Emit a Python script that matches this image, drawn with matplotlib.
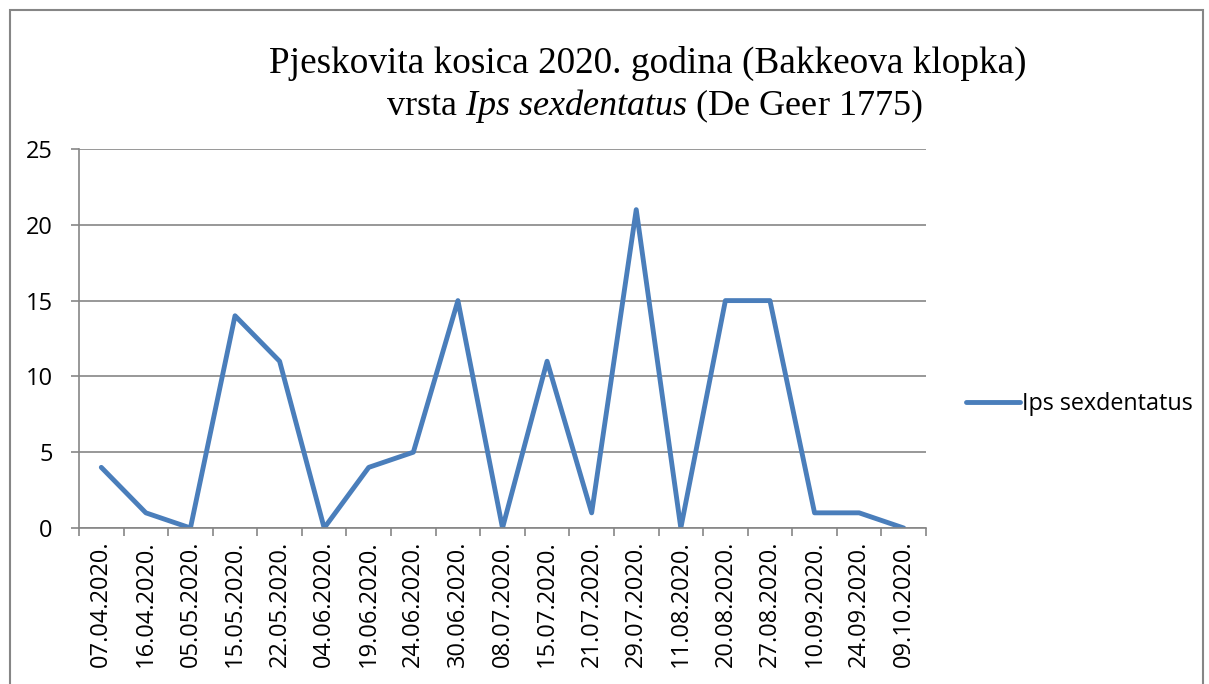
import matplotlib
matplotlib.use("Agg")
import matplotlib.pyplot as plt
from matplotlib.patches import Rectangle
import numpy as np

# data
dates = ["07.04.2020.", "16.04.2020.", "05.05.2020.", "15.05.2020.", "22.05.2020.",
         "04.06.2020.", "19.06.2020.", "24.06.2020.", "30.06.2020.", "08.07.2020.",
         "15.07.2020.", "21.07.2020.", "29.07.2020.", "11.08.2020.", "20.08.2020.",
         "27.08.2020.", "10.09.2020.", "24.09.2020.", "09.10.2020."]
counts = [4, 1, 0, 14, 11, 0, 4, 5, 15, 0, 11, 1, 21, 0, 15, 15, 1, 1, 0]
series_name = "Ips sexdentatus"
y_ticks = [0, 5, 10, 15, 20, 25]

plt.rcParams["mathtext.fontset"] = "custom"
plt.rcParams["mathtext.rm"] = "Liberation Serif"
plt.rcParams["mathtext.it"] = "Liberation Serif:italic"

W, H = 1209, 684
fig = plt.figure(figsize=(W / 100, H / 100), dpi=100)
ax = fig.add_axes([79 / W, 1 - 528 / H, (926 - 79) / W, (528 - 149) / H])

grey = "#868686"
x = np.arange(len(dates))
ax.plot(x, counts, color="#4A7EBB", lw=3.5, label=series_name,
        solid_joinstyle="round", solid_capstyle="round")

ax.set_xlim(-0.5, len(dates) - 0.5)
ax.set_ylim(0, 25)
ax.set_yticks(y_ticks)
ax.yaxis.grid(True, color=grey, lw=1.2)
ax.set_axisbelow(True)

# category ticks between the labels, labels in the middle
ax.set_xticks(np.arange(-0.5, len(dates), 1.0))
ax.set_xticklabels([])
ax.set_xticks(x, minor=True)
ax.set_xticklabels(dates, minor=True, rotation=90, va="top", ha="center",
                   fontsize=17, family="Open Sans")
ax.tick_params(axis="x", which="major", length=6, width=1.2, color=grey, direction="out")
ax.tick_params(axis="x", which="minor", length=0, pad=9)
ax.tick_params(axis="y", length=6, width=1.2, color=grey, pad=13, labelsize=17)
for lab in ax.get_yticklabels():
    lab.set_family("Open Sans")

for s in ["top", "right"]:
    ax.spines[s].set_visible(False)
for s in ["left", "bottom"]:
    ax.spines[s].set_color(grey)
    ax.spines[s].set_linewidth(1.2)

fig.text(648 / W, 1 - 63 / H, "Pjeskovita kosica 2020. godina (Bakkeova klopka)",
         ha="center", va="center", fontsize=26.8, family="Liberation Serif")
fig.text(654 / W, 1 - 106 / H, r"vrsta $\mathit{Ips\ sexdentatus}$ (De Geer 1775)",
         ha="center", va="center", fontsize=26, family="Liberation Serif")

leg = ax.legend(loc="center left", bbox_to_anchor=(945 / W, 1 - 404 / H),
                bbox_transform=fig.transFigure, frameon=False, handlelength=2.3,
                handletextpad=0.1, prop={"family": "Open Sans", "size": 16.8})

# outer chart border
fig.patches.append(Rectangle((10 / W, -0.1), (1203 - 10) / W, 1.1 - 10 / H,
                             transform=fig.transFigure, fill=False,
                             edgecolor=grey, lw=1.5))

fig.savefig("out.png", dpi=100)
